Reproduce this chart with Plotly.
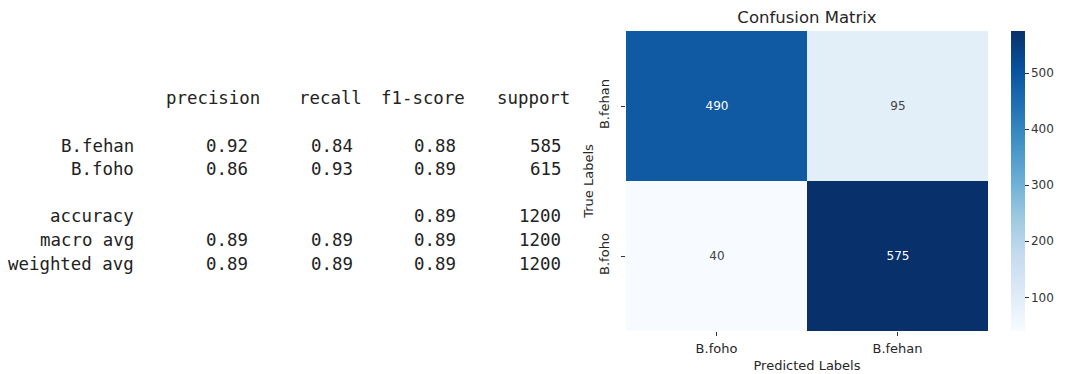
import plotly.graph_objects as go
import plotly.colors as pc

# ---- data ----
pred_labels = ["B.foho", "B.fehan"]
true_labels = ["B.fehan", "B.foho"]
cm_values = [[490, 95], [40, 575]]

report_headers = ["precision", "recall", "f1-score", "support"]
report_rows = ["B.fehan", "B.foho", "accuracy", "macro avg", "weighted avg"]
precision = ["0.92", "0.86", "", "0.89", "0.89"]
recall = ["0.84", "0.93", "", "0.89", "0.89"]
f1_score = ["0.88", "0.89", "0.89", "0.89", "0.89"]
support = ["585", "615", "1200", "1200", "1200"]

W, H = 1067, 374
L, R, T, B = 626, 988, 31, 331

def px_x(x):
    return (x - L) / (R - L)

def px_y(y):
    return (B - y) / (B - T)

fig = go.Figure()
fig.add_trace(go.Heatmap(
    z=cm_values, x=pred_labels, y=true_labels,
    colorscale=pc.sequential.Blues,
    zmin=40, zmax=575,
    texttemplate="%{z}",
    textfont=dict(size=12, family="DejaVu Sans"),
    hoverinfo="skip",
    colorbar=dict(
        x=px_x(1011), xanchor="left", xpad=0, ypad=0,
        thickness=14, len=1, lenmode="fraction", y=0.5, yanchor="middle",
        outlinewidth=0,
        tickvals=[100, 200, 300, 400, 500],
        ticks="outside", ticklen=4, tickcolor="#333",
        tickfont=dict(size=12, family="DejaVu Sans", color="#333"),
    ),
))

annotations = []
mono = dict(family="DejaVu Sans Mono", size=17.4, color="#222")
header_right = [262, 364, 467, 572]
for h, xr in zip(report_headers, header_right):
    annotations.append(dict(text=h, x=px_x(xr), y=px_y(98), xref="paper", yref="paper",
                            xanchor="right", yanchor="middle", showarrow=False, font=mono))
row_y = [146, 169, 216, 240, 264]
col_right = [136, 250, 355, 458, 563]
for i, name in enumerate(report_rows):
    cells = [name, precision[i], recall[i], f1_score[i], support[i]]
    for c, xr in zip(cells, col_right):
        if c == "":
            continue
        annotations.append(dict(text=c, x=px_x(xr), y=px_y(row_y[i]), xref="paper", yref="paper",
                                xanchor="right", yanchor="middle", showarrow=False, font=mono))

fig.update_layout(
    width=W, height=H,
    margin=dict(l=L, r=W - R, t=T, b=H - B, pad=0, autoexpand=False),
    paper_bgcolor="white", plot_bgcolor="white",
    font=dict(family="DejaVu Sans", color="#262626"),
    title=dict(text="Confusion Matrix", x=px_x(807), xref="paper", xanchor="center",
               y=1 - 17 / H, yanchor="middle", font=dict(size=16.5, color="#262626")),
    xaxis=dict(title=dict(text="Predicted Labels", font=dict(size=13), standoff=6),
               tickfont=dict(size=13), ticks="outside", ticklen=4, tickcolor="#333",
               ticklabelstandoff=1, automargin=False,
               showgrid=False, zeroline=False, showline=False),
    yaxis=dict(title=dict(text="True Labels", font=dict(size=13), standoff=0),
               tickfont=dict(size=13), tickangle=-90, ticks="outside", ticklen=4, tickcolor="#333",
               ticklabelstandoff=7, automargin=False,
               autorange="reversed", showgrid=False, zeroline=False, showline=False),
    annotations=annotations,
)

fig.write_html("out.html")
